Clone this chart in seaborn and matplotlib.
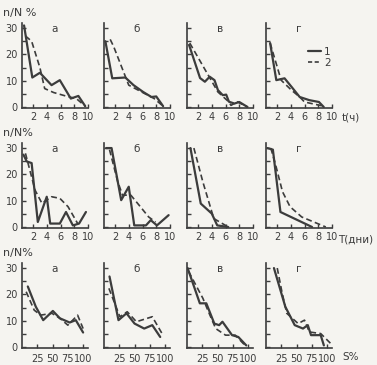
import matplotlib
matplotlib.use("Agg")
import matplotlib.pyplot as plt
import seaborn as sns

sns.set_theme(style="ticks")
plt.rcParams['font.family'] = ['DejaVu Sans']

panel_letters = ["а", "б", "в", "г"]
row_xlabels = ["t(ч)", "T(дни)", "S%"]
ylabels = ["n/N %", "n/N%", "n/N%"]
xticks_time = [2, 4, 6, 8, 10]
xticks_s = [25, 50, 75, 100]
yticks = [0, 10, 20, 30]
legend_labels = ["1", "2"]

# Row 1: t (hours)
r1a_sx = [0.7, 1.9, 3.0, 4.7, 5.9, 7.5, 8.6, 9.6]
r1a_sy = [31, 11.2, 13, 8.3, 10.2, 3.2, 4.2, 0.3]
r1a_dx = [0.9, 1.8, 3.0, 3.7, 5.0, 7.0, 8.3, 9.6]
r1a_dy = [27, 25, 15, 7, 5.5, 4, 3.2, 0.3]

r1b_sx = [0.6, 1.6, 3.5, 4.7, 6.1, 7.3, 8.0, 9.0]
r1b_sy = [25, 10.9, 11.2, 8.3, 5.7, 3.8, 4.0, 0.3]
r1b_dx = [1.3, 1.8, 4.0, 6.1, 7.7, 9.0]
r1b_dy = [25.7, 23, 8.3, 5.4, 3.2, 0.3]

r1c_sx = [0.7, 2.3, 3.0, 3.7, 4.4, 4.9, 5.6, 6.1, 6.5, 7.3, 8.0, 9.2]
r1c_sy = [23.6, 11, 9.6, 11.5, 10.2, 6.4, 4.5, 4.7, 2.0, 1.3, 1.9, 0]
r1c_dx = [0.8, 3.2, 4.9, 6.5, 6.8, 7.7, 9.2]
r1c_dy = [24.3, 13.4, 5.7, 1.9, 0.6, 2.0, 0]

r1d_sx = [1.0, 1.9, 3.1, 4.1, 5.3, 6.7, 8.1, 8.8]
r1d_sy = [24.3, 10.2, 10.9, 7.7, 3.8, 2.6, 1.9, 0]
r1d_dx = [1.0, 2.6, 4.1, 5.3, 6.0, 8.8]
r1d_dy = [24.3, 10.2, 6.4, 3.8, 1.9, 0.3]

# Row 2: T (days)
r2a_sx = [0.6, 1.1, 1.8, 2.7, 4.0, 4.5, 5.9, 6.8, 7.8, 8.7, 9.7]
r2a_sy = [27.5, 24.9, 24.3, 1.9, 11.5, 1.3, 1.3, 5.7, 0.6, 1.3, 5.7]
r2a_dx = [0.9, 1.6, 2.3, 3.3, 4.7, 5.9, 7.1, 8.5]
r2a_dy = [28, 21, 14, 9, 11.5, 10.9, 7.7, 1.3]

r2b_sx = [0.7, 1.5, 2.9, 4.0, 4.8, 6.5, 7.2, 8.1, 9.8]
r2b_sy = [30, 30, 10.2, 15.3, 0.6, 0.6, 2.6, 0.6, 4.5]
r2b_dx = [1.2, 2.4, 3.1, 4.3, 5.5, 6.9, 7.9]
r2b_dy = [29.4, 17.2, 12.1, 12.1, 8.3, 3.8, 1.9]

r2c_sx = [0.9, 2.4, 4.0, 4.8, 6.4]
r2c_sy = [30, 8.9, 5.1, 0.6, 0]
r2c_dx = [1.4, 2.7, 4.3, 6.4]
r2c_dy = [30, 17.2, 3.2, 0]

r2d_sx = [0.6, 1.4, 2.5, 7.1]
r2d_sy = [30, 29.4, 5.7, 0]
r2d_dx = [1.1, 1.8, 2.8, 3.9, 5.6, 9.1]
r2d_dy = [30, 23.6, 13.4, 7.7, 3.8, 0]

# Row 3: S (%)
r3a_sx = [9.5, 22.6, 34.7, 50.5, 62, 78, 88, 100]
r3a_sy = [23, 15.3, 10.2, 13.7, 10.9, 9.3, 10.2, 5.5]
r3a_dx = [6.8, 20, 30.5, 49, 62, 75, 91, 100]
r3a_dy = [21, 14, 12.1, 12.8, 10.9, 8.3, 12.1, 7]

r3b_sx = [9, 23.7, 36.8, 50, 65.8, 79, 92]
r3b_sy = [26.8, 10.2, 12.8, 8.9, 7.0, 8.3, 3.8]
r3b_dx = [8, 26, 38, 53, 79, 95]
r3b_dy = [22.3, 11.5, 13.4, 9.6, 11.5, 5.1]

r3c_sx = [1, 21, 31.6, 44.7, 52.6, 58, 73.7, 84, 97]
r3c_sy = [30, 16.6, 16.6, 8.9, 8.3, 9.6, 4.5, 3.8, 0.6]
r3c_dx = [2.6, 26, 34, 47, 63, 79, 95]
r3c_dy = [28.7, 18.5, 14, 7, 4.5, 4.5, 0.6]

r3d_sx = [13, 31.6, 47, 60.5, 68.4, 73.7, 89.5, 94.7]
r3d_sy = [30, 15.3, 8.3, 7, 8.3, 4.5, 4.5, 0.6]
r3d_dx = [18.4, 26, 34, 52.6, 63, 71, 89.5, 106]
r3d_dy = [30, 21, 12.8, 8.9, 10.2, 5.7, 5.1, 1.3]

series = [
    [(r1a_sx, r1a_sy, r1a_dx, r1a_dy), (r1b_sx, r1b_sy, r1b_dx, r1b_dy),
     (r1c_sx, r1c_sy, r1c_dx, r1c_dy), (r1d_sx, r1d_sy, r1d_dx, r1d_dy)],
    [(r2a_sx, r2a_sy, r2a_dx, r2a_dy), (r2b_sx, r2b_sy, r2b_dx, r2b_dy),
     (r2c_sx, r2c_sy, r2c_dx, r2c_dy), (r2d_sx, r2d_sy, r2d_dx, r2d_dy)],
    [(r3a_sx, r3a_sy, r3a_dx, r3a_dy), (r3b_sx, r3b_sy, r3b_dx, r3b_dy),
     (r3c_sx, r3c_sy, r3c_dx, r3c_dy), (r3d_sx, r3d_sy, r3d_dx, r3d_dy)],
]

W, H = 377, 365
BG = "#f5f4f0"
INK = "#3c3c3c"
fig = plt.figure(figsize=(W / 100, H / 100), dpi=100, facecolor=BG)

col_left = [22, 104, 187, 266]
row_bottom = [108.3, 228.3, 348.3]
ax_w = 66
ax_h = 85.5
xpad = [3, 3, 4]

for r in range(3):
    for c in range(4):
        l = col_left[c] / W
        b = 1 - row_bottom[r] / H
        ax = fig.add_axes([l, b, ax_w / W, ax_h / H])
        ax.set_facecolor(BG)
        sx, sy, dx, dy = series[r][c]
        sns.lineplot(x=sx, y=sy, ax=ax, color=INK, lw=1.6, sort=False,
                     estimator=None, label=legend_labels[0] if (r == 0 and c == 3) else None)
        sns.lineplot(x=dx, y=dy, ax=ax, color=INK, lw=1.2, sort=False,
                     estimator=None, dashes=False,
                     label=legend_labels[1] if (r == 0 and c == 3) else None)
        ax.lines[-1].set_dashes((3.5, 2))
        if r < 2:
            ax.set_xlim(0.4, 10)
            ax.set_xticks(xticks_time)
        else:
            ax.set_xlim(0, 108)
            ax.set_xticks(xticks_s)
        ax.set_ylim(-0.5, 32)
        ax.set_yticks(yticks)
        ax.set_yticks([5, 15, 25], minor=True)
        for s in ["top", "right"]:
            ax.spines[s].set_visible(False)
        for s in ["left", "bottom"]:
            ax.spines[s].set_color(INK)
            ax.spines[s].set_linewidth(1.2)
        ax.tick_params(axis="both", which="both", direction="in", length=3,
                       width=1.0, color=INK, labelcolor=INK, labelsize=7, pad=3)
        ax.tick_params(axis="x", pad=xpad[r])
        if c > 0:
            ax.set_yticklabels([])
        ax.set_xlabel("")
        ax.set_ylabel("")
        ax.text(0.5, 0.93, panel_letters[c], transform=ax.transAxes,
                ha="center", va="center", fontsize=7.5, color=INK)
        if r == 0 and c == 3:
            leg = ax.legend(loc="upper left", bbox_to_anchor=(0.55, 0.78),
                            frameon=False, fontsize=7.5, handlelength=1.3,
                            handletextpad=0.3, labelspacing=0.1, borderpad=0)
            for t in leg.get_texts():
                t.set_color(INK)
            leg.get_lines()[1].set_dashes((2.5, 1.5))
        elif ax.get_legend() is not None:
            ax.get_legend().remove()

ylab_y = [13, 133, 253]
for r in range(3):
    fig.text(3 / W, 1 - ylab_y[r] / H, ylabels[r], ha="left", va="center",
             fontsize=8, color=INK)

xlab_pos = [(342, 117), (338, 239), (342, 357)]
for r in range(3):
    fig.text(xlab_pos[r][0] / W, 1 - xlab_pos[r][1] / H, row_xlabels[r],
             ha="left", va="center", fontsize=7.5, color=INK)

fig.savefig("out.png", dpi=100, facecolor=BG)
